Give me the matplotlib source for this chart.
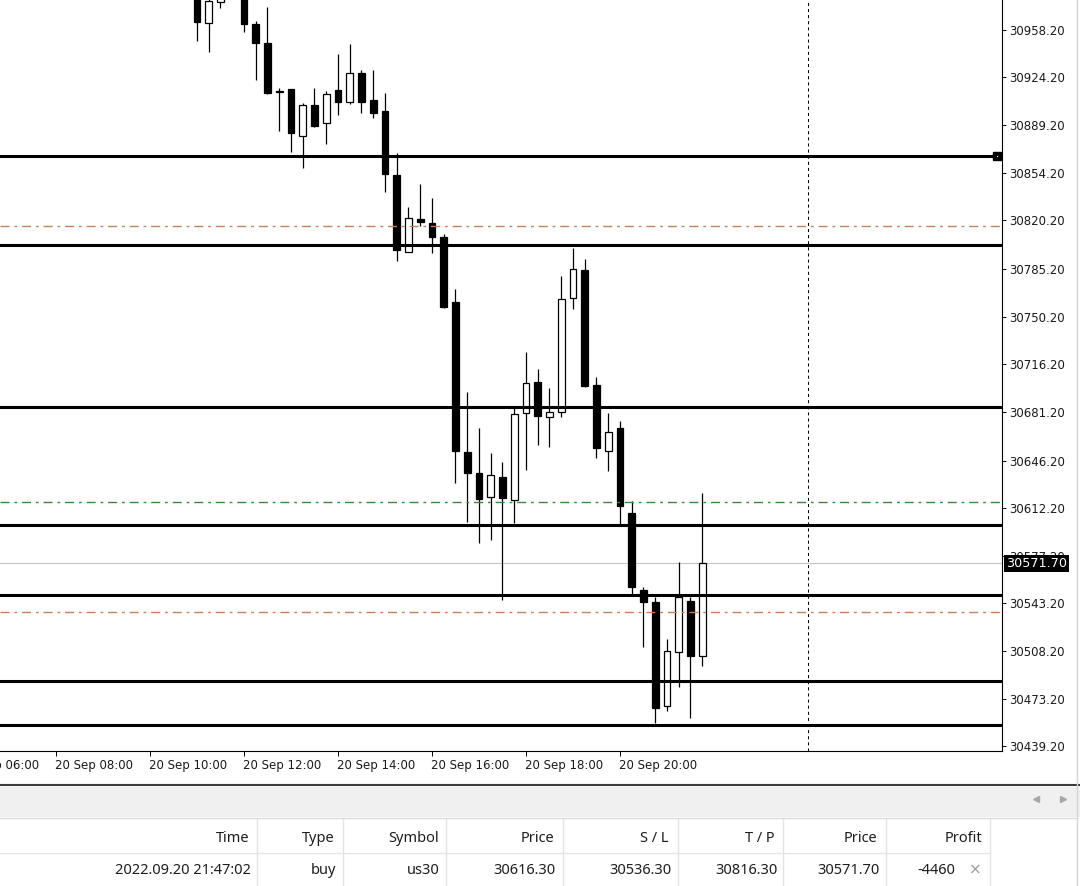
import matplotlib
matplotlib.use("Agg")
import matplotlib.pyplot as plt
from matplotlib.transforms import blended_transform_factory
from matplotlib.patches import Rectangle

plt.rcParams['lines.scale_dashes'] = False

# M15 candles, 20 Sep (us30)
times = ['11:00', '11:15', '11:30', '11:45', '12:00', '12:15', '12:30', '12:45',
         '13:00', '13:15', '13:30', '13:45', '14:00', '14:15', '14:30', '14:45',
         '15:00', '15:15', '15:30', '15:45', '16:00', '16:15', '16:30', '16:45',
         '17:00', '17:15', '17:30', '17:45', '18:00', '18:15', '18:30', '18:45',
         '19:00', '19:15', '19:30', '19:45', '20:00', '20:15', '20:30', '20:45',
         '21:00', '21:15', '21:30', '21:45']
opens = [30990.0, 30963.0, 30978.0, 30988.0, 30992.0, 30962.3, 30948.6, 30913.8,
         30915.3, 30881.2, 30903.7, 30890.6, 30914.5, 30905.8, 30926.8, 30907.3,
         30899.3, 30853.0, 30797.2, 30821.1, 30818.2, 30808.1, 30761.0, 30652.4,
         30637.2, 30619.8, 30634.3, 30617.6, 30680.6, 30703.1, 30677.7, 30681.4,
         30763.9, 30784.2, 30700.9, 30653.1, 30669.8, 30608.2, 30552.5, 30543.8,
         30468.5, 30507.6, 30544.5, 30504.7]
highs = [30998.0, 30985.0, 30990.0, 30998.0, 30996.0, 30964.5, 30974.6, 30916.0,
         30915.6, 30905.1, 30916.0, 30913.8, 30940.6, 30947.8, 30929.0, 30929.0,
         30912.4, 30868.9, 30829.8, 30846.5, 30836.3, 30810.3, 30770.4, 30695.9,
         30669.8, 30651.7, 30645.2, 30684.3, 30724.8, 30712.5, 30698.8, 30779.8,
         30800.1, 30792.2, 30706.7, 30680.6, 30674.9, 30616.9, 30554.7, 30547.4,
         30517.0, 30572.8, 30547.4, 30622.7]
lows = [30950.0, 30942.0, 30973.9, 30983.0, 30956.5, 30921.8, 30911.8, 30884.8,
        30869.6, 30858.1, 30888.0, 30875.4, 30896.4, 30904.4, 30897.9, 30894.3,
        30840.7, 30790.7, 30797.0, 30816.1, 30796.5, 30756.8, 30630.0, 30601.7,
        30586.5, 30588.7, 30545.2, 30601.0, 30639.4, 30657.5, 30656.0, 30677.7,
        30756.0, 30699.5, 30648.1, 30638.6, 30599.5, 30548.9, 30511.2, 30456.2,
        30464.9, 30482.2, 30459.8, 30497.5]
closes = [30963.8, 30979.0, 30985.0, 30992.0, 30962.3, 30948.6, 30912.4, 30913.2,
          30883.4, 30903.7, 30888.5, 30911.6, 30905.8, 30926.8, 30905.8, 30897.9,
          30853.7, 30798.7, 30821.8, 30818.9, 30808.1, 30757.4, 30653.1, 30637.2,
          30618.4, 30635.8, 30619.1, 30679.9, 30702.4, 30678.5, 30681.4, 30763.2,
          30784.9, 30700.2, 30655.3, 30666.9, 30613.3, 30554.7, 30543.8, 30467.0,
          30508.3, 30547.4, 30504.7, 30571.7]

levels = [30866.7, 30802.3, 30685.0, 30599.5, 30548.9, 30486.6, 30454.4]
entry_price = 30616.3
stop_loss = 30536.3
take_profit = 30816.3
bid_price = 30571.7

price_ticks = [30958.2, 30924.2, 30889.2, 30854.2, 30820.2, 30785.2, 30750.2, 30716.2,
               30681.2, 30646.2, 30612.2, 30577.2, 30543.2, 30508.2, 30473.2, 30439.2]
time_ticks = [6, 8, 10, 12, 14, 16, 18, 20]
time_labels = ['20 Sep 06:00', '20 Sep 08:00', '20 Sep 10:00', '20 Sep 12:00',
               '20 Sep 14:00', '20 Sep 16:00', '20 Sep 18:00', '20 Sep 20:00']
day_separator = 24

table_header = ['Time', 'Type', 'Symbol', 'Price', 'S / L', 'T / P', 'Price', 'Profit']
table_row = ['2022.09.20 21:47:02', 'buy', 'us30', '30616.30', '30536.30',
             '30816.30', '30571.70', '-4460']

hours = [int(t[:2]) + int(t[3:]) / 60 for t in times]

fig = plt.figure(figsize=(10.8, 8.86), dpi=100)
fig.patch.set_facecolor('white')

# pixel overlay for the terminal UI around the chart
ov = fig.add_axes([0, 0, 1, 1])
ov.set_xlim(0, 1080)
ov.set_ylim(886, 0)
ov.axis('off')
ov.plot([0, 1080], [785, 785], color='#3c3c3c', lw=1.5)
ov.add_patch(Rectangle((0, 786.5), 1080, 30, facecolor='#f0f0f0', edgecolor='none'))
ov.plot([1036], [799], marker='<', ms=4, color='#a8a8a8')
ov.plot([1063], [799], marker='>', ms=4, color='#a8a8a8')
ov.plot([0, 1077], [818, 818], color='#dadada', lw=1)
ov.plot([0, 990], [853, 853], color='#e6e6e6', lw=1)
ov.plot([1077, 1077], [0, 886], color='#d4d4d4', lw=1)
for xs in [257, 343, 446, 563, 678, 783, 886, 990]:
    ov.plot([xs, xs], [819, 886], color='#e3e3e3', lw=1)
head_right = [250, 335, 439, 554, 668, 775, 877, 982]
row_right = [251, 336, 440, 556, 671, 778, 880, 955]
for xr, txt in zip(head_right, table_header):
    ov.text(xr, 838, txt, ha='right', va='center', fontsize=10.5,
            family='Noto Sans', color='#1e1e1e')
for xr, txt in zip(row_right, table_row):
    ov.text(xr, 870, txt, ha='right', va='center', fontsize=10.5,
            family='Noto Sans', color='#1e1e1e')
ov.text(975, 870, '×', ha='center', va='center', fontsize=11, color='#9a9a9a')

# main chart
ax = fig.add_axes([0, 135 / 886, 1002 / 1080, 751 / 886])
ax.set_xlim(6.809, 28.128)
ax.set_ylim(30435.9, 30979.7)

for x, o, h, l, c in zip(hours, opens, highs, lows, closes):
    face = 'white' if c >= o else 'black'
    ax.vlines(x, l, h, color='black', lw=0.9, zorder=3)
    ax.bar(x, max(abs(c - o), 0.3), bottom=min(o, c), width=0.14,
           color=face, edgecolor='black', lw=0.9, zorder=4)

ax.axhline(bid_price, color='#c4c4c4', lw=0.8, zorder=2)
for lv in levels:
    ax.axhline(lv, color='black', lw=2.2, zorder=5)
dashdot = (0, (6.5, 3.5, 2, 3.5))
ax.axhline(take_profit, color='#c0835f', lw=1.0, ls=dashdot, zorder=5)
ax.axhline(stop_loss, color='#c0835f', lw=1.0, ls=dashdot, zorder=5)
ax.axhline(entry_price, color='#3a883a', lw=1.0, ls=dashdot, zorder=5)
ax.axvline(day_separator, color='black', lw=0.75, ls=(0, (2.2, 2.2)), zorder=5)

bt = blended_transform_factory(ax.transAxes, ax.transData)
ax.plot([997 / 1002], [levels[0]], marker='s', ms=5.5, color='black', transform=bt,
        clip_on=False, zorder=6)
ax.plot([997 / 1002], [levels[0]], marker='s', ms=0.8, mew=0, color='white',
        transform=bt, clip_on=False, zorder=7)

for side in ['top', 'left']:
    ax.spines[side].set_visible(False)
for side in ['right', 'bottom']:
    ax.spines[side].set_linewidth(0.8)

ax.yaxis.tick_right()
ax.set_yticks(price_ticks)
ax.set_yticklabels(['%.2f' % p for p in price_ticks])
ax.tick_params(axis='y', direction='out', length=3, width=0.7, pad=2.5,
               labelsize=8.5, labelcolor='#1a1a1a')

ax.set_xticks([t for t in time_ticks if t > 6.809])
ax.set_xticklabels([])
ax.tick_params(axis='x', direction='out', length=3.6, width=0.7)
tx = blended_transform_factory(ax.transData, ax.transAxes)
for t, lab in zip(time_ticks, time_labels):
    ax.text(t - 0.02, -15 / 751, lab, transform=tx, ha='left', va='center',
            fontsize=8.5, color='#1a1a1a', clip_on=False)

ax.text(1.0 + 4 / 1002, bid_price, '30571.70', transform=bt, ha='left', va='center',
        fontsize=9.2, color='white', zorder=10, clip_on=False,
        bbox=dict(facecolor='black', edgecolor='none', pad=1.6))

fig.savefig('out.png', dpi=100)
